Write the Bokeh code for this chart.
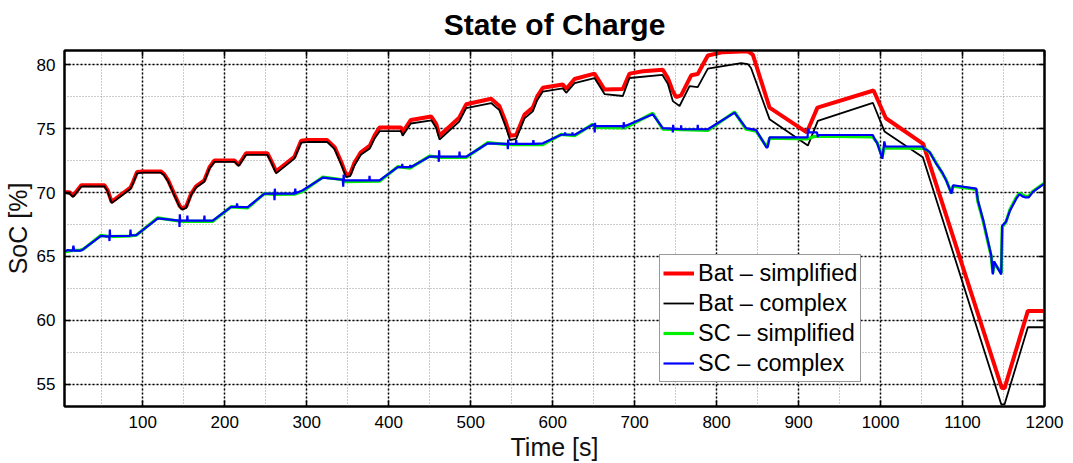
from bokeh.plotting import figure
from bokeh.models import Range1d, SingleIntervalTicker, LinearAxis, Legend, CustomJSTickFormatter
from bokeh.embed import file_html
from bokeh.resources import INLINE

# ---- data ----
bat_simp_t = [5, 11, 15, 25, 53.3, 57, 62, 85, 88, 93, 100, 122, 126, 131, 139, 145, 148, 153, 159, 165,
              175, 181.4, 187.5, 212, 217, 226, 252, 256.6, 262.7, 285, 293.2, 300, 325, 334, 342, 348, 353,
              358, 366, 377, 383, 389, 415, 417, 427, 452, 458, 462, 486, 494.5, 525, 535, 543, 548, 555.5,
              565.7, 575.8, 581, 588, 612.4, 616.5, 626.7, 651, 657, 663.3, 685.6, 693.8, 710, 734.4, 740.5,
              746.6, 750.6, 756.7, 769, 777, 789.3, 807.6, 838, 844.2, 864.6, 910, 923, 991.5, 1006.5,
              1052, 1148, 1151.3, 1179.7, 1200]
bat_simp_y = [70.05, 70.0, 69.75, 70.57, 70.57, 70.2, 69.27, 70.38, 70.8, 71.6, 71.65, 71.65, 71.45, 70.95,
              69.8, 68.95, 68.76, 68.9, 69.9, 70.49, 70.95, 71.98, 72.5, 72.5, 72.17, 73.07, 73.07, 72.5,
              71.65, 72.8, 74.05, 74.1, 74.1, 73.55, 72.4, 71.4, 71.45, 72.3, 73.15, 73.67, 74.5, 75.09,
              75.09, 74.7, 75.68, 75.94, 75.35, 74.44, 75.86, 76.9, 77.33, 76.77, 75.47, 74.44, 74.5, 76.1,
              76.64, 77.5, 78.19, 78.45, 78.1, 78.88, 79.3, 78.7, 78.06, 78.1, 79.3, 79.48, 79.6, 78.96,
              77.93, 77.47, 77.6, 79.17, 79.27, 80.72, 80.98, 81.05, 80.78, 76.64, 74.7, 76.64, 77.98, 75.81,
              73.8, 54.7, 54.7, 60.74, 60.74]

bat_comp_t = [5, 11, 15, 25, 53.3, 57, 62, 85, 88, 93, 100, 122, 126, 131, 139, 145, 148, 153, 159, 165,
              175, 181.4, 187.5, 212, 217, 226, 252, 256.6, 262.7, 285, 293.2, 300, 325, 334, 342, 348, 353,
              358, 366, 377, 383, 389, 415, 417, 427, 452, 458, 462, 486, 494.5, 525, 535, 543, 548, 555.5,
              565.7, 575.8, 581, 588, 612.4, 616.5, 626.7, 651, 657, 663.3, 685.6, 693.8, 734, 740.5, 746.6,
              754.8, 767, 777, 789.3, 830, 838, 842, 864.6, 911.3, 923.5, 990.6, 1004.8, 1051.6, 1147.2,
              1151.3, 1179.7, 1200]
bat_comp_y = [69.95, 69.9, 69.65, 70.47, 70.47, 70.1, 69.17, 70.28, 70.7, 71.5, 71.55, 71.55, 71.35, 70.85,
              69.7, 68.85, 68.66, 68.8, 69.8, 70.39, 70.85, 71.88, 72.4, 72.4, 72.07, 72.95, 72.95, 72.35,
              71.5, 72.65, 73.9, 73.95, 73.95, 73.4, 72.2, 71.2, 71.28, 72.1, 72.95, 73.45, 74.25, 74.8, 74.8,
              74.45, 75.4, 75.65, 75.05, 74.15, 75.55, 76.6, 77.0, 76.45, 75.1, 74.1, 74.2, 75.8, 76.35, 77.2,
              77.9, 78.15, 77.8, 78.55, 78.95, 78.35, 77.7, 77.55, 78.96, 79.2, 78.5, 77.15, 76.77, 78.32,
              78.24, 79.69, 80.12, 80.05, 79.74, 75.74, 73.67, 75.6, 77.02, 74.78, 72.76, 53.43, 53.43,
              59.46, 59.46]

sc_comp_t = [5, 8.6, 12, 14.5, 15.4, 16.3, 24, 27, 49, 59, 59.4, 59.8, 60.2, 84.5, 85, 85.5, 92, 118.3,
             144.5, 144.8, 145.2, 145.6, 154, 154.4, 154.8, 174.8, 175.2, 175.6, 185.4, 207.8, 214.5, 215,
             215.5, 228, 248.5, 260.3, 260.7, 261.1, 261.5, 285.6, 286, 286.4, 295.2, 319.6, 344, 344.5,
             345, 345.5, 376.3, 376.6, 377, 388.8, 411, 416.2, 416.5, 416.9, 426, 426.4, 426.8, 449.8,
             460.8, 461.1, 461.5, 461.9, 486, 486.4, 486.8, 494.5, 520.9, 545, 545.3, 545.7, 546.1, 555,
             555.5, 556, 576, 576.5, 577, 588, 610.4, 614.8, 615.2, 615.6, 623.8, 624.2, 624.6, 627, 649,
             651, 651.3, 651.7, 652, 686, 686.3, 686.7, 687.1, 690, 722.2, 734.4, 746.3, 746.6, 747, 747.4,
             756.4, 756.7, 757.1, 776.7, 777, 777.4, 789.3, 821.9, 836, 848.2, 861.3, 862.5, 864.6, 911,
             911.5, 912.5, 922.5, 923.5, 924.5, 990.6, 992.6, 996, 1002.2, 1004.6, 1006, 1051.6, 1053,
             1056, 1060, 1068, 1075, 1080, 1086.5, 1088.5, 1116.7, 1118.7, 1125, 1130, 1135, 1137, 1138.5,
             1147.2, 1148.4, 1153, 1158, 1165.4, 1169.5, 1173, 1176.8, 1180.8, 1185.8, 1200]
sc_comp_y = [65.4, 65.5, 65.45, 65.45, 65.85, 65.45, 65.45, 65.55, 66.61, 66.55, 66.2, 67.1, 66.6, 66.6,
             67.1, 66.65, 66.66, 67.98, 67.8, 67.3, 68.3, 67.8, 67.8, 68.2, 67.8, 67.8, 68.2, 67.8, 67.8,
             68.88, 68.88, 69.15, 68.88, 68.85, 69.92, 69.92, 69.4, 70.3, 69.92, 69.92, 70.3, 69.95, 70.18,
             71.16, 71.0, 70.45, 71.4, 70.95, 70.95, 71.3, 70.95, 70.95, 71.98, 71.98, 72.25, 71.98, 71.98,
             72.15, 71.98, 72.81, 72.81, 72.4, 73.3, 72.8, 72.8, 73.2, 72.8, 72.8, 73.85, 73.8, 73.38, 74.15,
             73.8, 73.8, 74.1, 73.8, 73.8, 74.1, 73.8, 73.85, 74.52, 74.52, 74.7, 74.52, 74.52, 74.7,
             74.52, 74.52, 75.3, 75.3, 74.7, 75.45, 75.2, 75.2, 75.0, 75.5, 75.2, 75.25, 76.12, 75.04,
             75.0, 74.7, 75.3, 75.0, 74.95, 75.25, 74.95, 74.95, 75.3, 74.95, 74.95, 76.25, 75.04, 74.88,
             73.49, 73.6, 74.31, 74.31, 75.0, 74.7, 74.7, 74.35, 74.5, 74.5, 74.2, 73.85, 72.64, 74.0,
             73.6, 73.6, 73.4, 73.35, 73.15, 72.25, 71.6, 70.95, 69.92, 70.57, 70.31, 69.4, 67.9, 66.5,
             65.1, 63.59, 64.62, 63.59, 67.4, 67.72, 68.6, 69.5, 69.87, 69.7, 69.62, 69.62, 70.05, 70.7]

sc_simp_t = [5, 12, 24, 27, 49, 59, 84.5, 92, 118.3, 145, 185.4, 207.8, 228, 248.5, 261, 286, 295.2, 319.6,
             344, 345, 388.8, 411, 426, 449.8, 461, 494.5, 520.9, 545, 588, 610.4, 627, 649, 651, 688,
             722.2, 734.4, 789.3, 821.9, 836, 848.2, 861.3, 864.6, 911, 920, 990.6, 996, 1002, 1004.5,
             1053.7, 1060, 1068, 1080, 1086.5, 1088.5, 1116.7, 1118.7, 1125, 1130, 1135, 1137, 1138.5,
             1147.2, 1148.4, 1153, 1158, 1165.4, 1169.5, 1176.8, 1180.8, 1185.8, 1200]
sc_simp_y = [65.35, 65.45, 65.5, 65.55, 66.65, 66.55, 66.6, 66.66, 68.02, 67.75, 67.75, 68.88, 68.8, 69.92,
             69.85, 69.88, 70.1, 71.2, 71.0, 70.85, 70.88, 72.02, 71.9, 72.85, 72.75, 72.75, 73.9, 73.75,
             73.75, 74.55, 74.45, 75.35, 75.1, 75.05, 76.2, 74.95, 74.85, 76.3, 74.95, 74.8, 73.55, 74.25,
             74.2, 74.4, 74.35, 73.9, 72.8, 73.5, 73.45, 73.15, 72.3, 71.0, 69.95, 70.5, 70.25, 69.3, 67.8,
             66.4, 65.0, 63.7, 64.5, 63.7, 67.3, 67.7, 68.7, 69.6, 69.95, 69.7, 69.7, 70.1, 70.75]

labels = ["Bat \u2013 simplified", "Bat \u2013 complex", "SC \u2013 simplified", "SC \u2013 complex"]

FONT = "Liberation Sans"

p = figure(width=1073, height=463, output_backend="svg", toolbar_location=None,
           x_range=Range1d(4.5, 1200), y_range=Range1d(53.26, 81.11),
           min_border_left=62, min_border_right=29, min_border_top=49, min_border_bottom=55,
           title="State of Charge")
p.background_fill_color = "white"
p.border_fill_color = "white"
p.outline_line_color = "black"
p.outline_line_width = 2

p.title.text_font = FONT
p.title.text_font_size = "30px"
p.title.text_font_style = "bold"
p.title.text_color = "black"
p.title.align = "center"
p.title.standoff = 11

xt = SingleIntervalTicker(interval=100, num_minor_ticks=2)
yt = SingleIntervalTicker(interval=5, num_minor_ticks=2)
p.xaxis.ticker = xt
p.yaxis.ticker = yt

for ax in (p.xaxis[0], p.yaxis[0]):
    ax.axis_line_width = 2
    ax.major_tick_in = 6
    ax.major_tick_out = 0
    ax.major_tick_line_width = 1.5
    ax.minor_tick_line_color = None
    ax.major_label_text_font = FONT
    ax.major_label_text_font_size = "17px"
    ax.major_label_text_color = "black"
    ax.axis_label_text_font = FONT
    ax.axis_label_text_font_size = "25px"
    ax.axis_label_text_font_style = "normal"
    ax.axis_label_text_color = "#111111"
    ax.major_label_standoff = 5
    ax.axis_label_standoff = 2
p.xaxis.axis_label = "Time [s]"
p.yaxis.axis_label = "SoC [%]"

blank = CustomJSTickFormatter(code="return '';")
top = LinearAxis(ticker=xt, formatter=blank, axis_line_width=2, major_tick_in=6,
                 major_tick_out=0, major_tick_line_width=1.5, minor_tick_line_color=None,
                 major_label_standoff=0)
right = LinearAxis(ticker=yt, formatter=blank, axis_line_width=2, major_tick_in=6,
                   major_tick_out=0, major_tick_line_width=1.5, minor_tick_line_color=None,
                   major_label_standoff=0)
p.add_layout(top, "above")
p.add_layout(right, "right")

p.xgrid.grid_line_color = "black"
p.ygrid.grid_line_color = "black"
p.xgrid.grid_line_dash = "2 2"
p.ygrid.grid_line_dash = "2 2"
p.xgrid.grid_line_width = 1.5
p.ygrid.grid_line_width = 1.5
p.xgrid.minor_grid_line_color = "#999999"
p.ygrid.minor_grid_line_color = "#999999"
p.xgrid.minor_grid_line_dash = "1 2"
p.ygrid.minor_grid_line_dash = "1 2"
p.xgrid.minor_grid_line_width = 1
p.ygrid.minor_grid_line_width = 1

r1 = p.line(bat_simp_t, bat_simp_y, line_color="#ff0000", line_width=4)
r2 = p.line(bat_comp_t, bat_comp_y, line_color="black", line_width=1.8)
r3 = p.line(sc_simp_t, sc_simp_y, line_color="#00ee00", line_width=3.2)
r4 = p.line(sc_comp_t, sc_comp_y, line_color="#0000ff", line_width=2.2)

legend = Legend(items=[(labels[0], [r1]), (labels[1], [r2]), (labels[2], [r3]), (labels[3], [r4])],
                location=(595, 24))
legend.label_text_font = FONT
legend.label_text_font_size = "23.5px"
legend.label_text_color = "black"
legend.glyph_width = 31
legend.glyph_height = 30
legend.label_height = 30
legend.label_standoff = 4
legend.spacing = 0
legend.padding = 3
legend.margin = 0
legend.border_line_color = "#333333"
legend.border_line_width = 1.5
legend.background_fill_color = "white"
legend.background_fill_alpha = 1
p.add_layout(legend, "center")

open("out.html", "w").write(file_html(p, INLINE))
